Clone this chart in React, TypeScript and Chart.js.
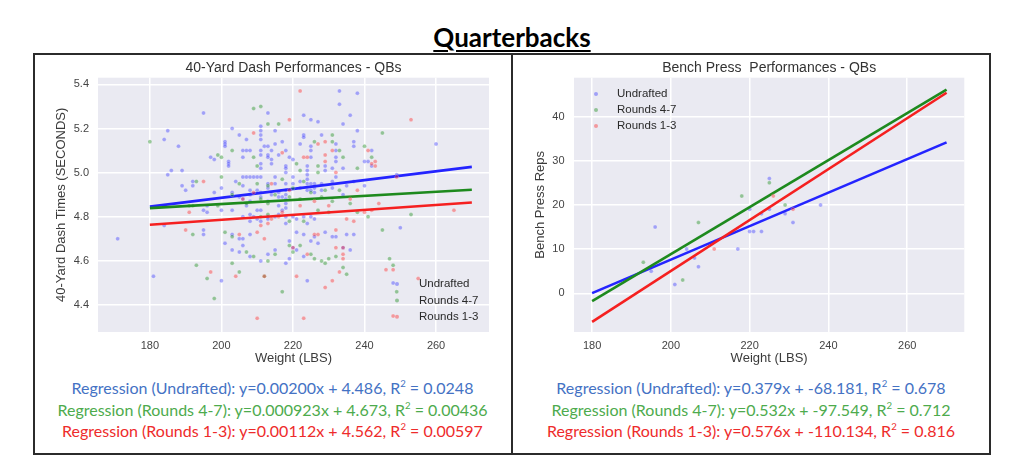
import React, { useEffect, useRef } from 'react';
import { Chart, registerables } from 'chart.js';

Chart.register(...registerables);
Chart.defaults.font.family = '"Liberation Sans", Arial, sans-serif';
Chart.defaults.color = '#3b3b3b';

// ---------- data ----------
const seriesNames = ['Undrafted', 'Rounds 4-7', 'Rounds 1-3'];

const weightTicks = [180, 200, 220, 240, 260];
const dashTicks = [4.4, 4.6, 4.8, 5.0, 5.2, 5.4];
const dashTickLabels = ['4.4', '4.6', '4.8', '5.0', '5.2', '5.4'];
const benchTicks = [0, 10, 20, 30, 40];
const benchTickLabels = ['0', '10', '20', '30', '40'];

const dashUndrafted: number[][] = [
  [233, 5.37], [238, 5.36], [233, 5.31], [195, 5.27], [213, 5.27], [223, 5.26], [236, 5.26], [227, 5.23], [225, 5.24], [234, 5.22],
  [211, 5.21], [203, 5.2], [238, 5.19], [211, 5.19], [215, 5.19], [211, 5.17], [205, 5.17], [223, 5.17], [223, 5.16], [228, 5.17],
  [207, 5.15], [211, 5.15], [237, 5.14], [201, 5.14], [201, 5.13], [201, 5.12], [217, 5.14], [215, 5.13], [222, 5.13], [225, 5.12],
  [212, 5.12], [213, 5.12], [237, 5.12], [242, 5.1], [232, 5.13], [232, 5.1], [206, 5.1], [207, 5.1], [208, 5.1], [211, 5.1],
  [211, 5.08], [214, 5.1], [218, 5.1], [225, 5.1], [197, 5.07], [198, 5.06], [206, 5.07], [213, 5.08], [213, 5.07], [216, 5.08],
  [219, 5.07], [220, 5.06], [225, 5.07], [232, 5.07], [232, 5.05], [241, 5.05], [240, 5.05], [242, 5.03], [234, 5.02], [202, 5.05],
  [202, 5.04], [202, 5.03], [211, 5.04], [211, 5.02], [214, 5.06], [214, 5.04], [218, 5.03], [218, 5.02], [218, 5.0], [224, 5.03],
  [224, 5.01], [229, 5.03], [229, 5.01], [231, 5.02],
  [184, 5.15], [185, 5.19], [188, 5.12], [185, 4.99], [186, 5.01], [189, 4.94], [190, 4.92], [192, 4.96], [189, 5.01], [171, 4.7],
  [181, 4.53], [184, 4.76], [195, 4.74], [200, 4.51],
  [192, 4.94], [196, 4.85], [198, 4.91], [200, 4.93], [204, 4.96], [206, 4.98], [207, 4.98], [208, 4.98], [209, 4.98], [210, 4.98],
  [211, 4.98], [206, 4.94], [208, 4.92], [208, 4.9], [210, 4.92], [211, 4.91], [213, 4.95], [213, 4.93], [215, 4.98], [215, 4.95],
  [216, 4.91], [216, 4.89], [218, 4.95], [218, 4.92], [218, 4.9], [218, 4.88], [218, 4.86], [218, 4.84], [220, 4.98], [220, 4.95],
  [222, 4.96], [222, 4.93], [224, 4.99], [224, 4.97], [224, 4.95], [224, 4.92], [225, 4.95], [225, 4.92], [226, 4.95], [226, 4.93],
  [226, 4.91], [228, 4.95], [228, 4.92], [231, 4.96], [231, 4.93], [232, 4.98], [234, 4.9], [235, 4.94], [237, 4.96], [240, 4.94],
  [203, 4.91], [205, 4.89], [206, 4.88], [207, 4.85], [208, 4.87], [211, 4.89], [213, 4.87], [214, 4.9], [216, 4.85], [217, 4.89],
  [196, 4.82], [195, 4.83], [200, 4.83], [203, 4.83], [206, 4.8], [208, 4.81], [209, 4.8], [210, 4.79], [211, 4.78], [210, 4.83],
  [211, 4.83], [208, 4.78], [213, 4.8], [213, 4.79], [215, 4.8], [216, 4.81], [217, 4.83], [218, 4.8], [218, 4.77], [220, 4.8],
  [221, 4.79], [223, 4.8], [224, 4.77], [225, 4.8], [226, 4.79], [221, 4.73], [223, 4.72], [229, 4.73], [232, 4.71], [235, 4.72],
  [237, 4.72], [250, 4.75], [195, 4.72], [203, 4.72], [205, 4.7], [206, 4.7], [208, 4.72], [201, 4.68], [203, 4.65], [205, 4.64],
  [206, 4.67], [208, 4.62], [211, 4.6], [213, 4.63], [215, 4.65], [219, 4.69], [220, 4.66], [221, 4.65], [223, 4.62], [225, 4.69],
  [226, 4.71], [227, 4.68], [231, 4.71], [234, 4.66], [236, 4.65], [218, 4.59], [219, 4.61], [224, 4.51], [248, 4.5], [260, 5.13],
  [249, 4.99],
];

const dashRounds47: number[][] = [
  [211, 5.3], [209, 5.29], [213, 5.22], [216, 5.22], [245, 5.18], [231, 5.17], [231, 5.14], [226, 5.14], [240, 5.12], [203, 5.1],
  [233, 5.1], [199, 5.08], [200, 5.07], [209, 5.07], [234, 5.07], [242, 5.07], [238, 5.02], [210, 5.03], [221, 5.04], [222, 5.01],
  [227, 5.03], [227, 5.0], [180, 5.14], [200, 4.98], [193, 4.96], [205, 4.95], [210, 4.95], [213, 4.94], [217, 4.97], [220, 4.93],
  [223, 4.96], [229, 4.92], [233, 4.92], [215, 4.9], [219, 4.89], [222, 4.88], [225, 4.91], [228, 4.89], [231, 4.87], [236, 4.86],
  [191, 4.85], [192, 4.85], [199, 4.85], [203, 4.9], [207, 4.86], [211, 4.88], [213, 4.86], [192, 4.72], [193, 4.58], [196, 4.52],
  [198, 4.43], [201, 4.73], [203, 4.71], [203, 4.59], [205, 4.55], [207, 4.64], [209, 4.62], [212, 4.53], [213, 4.6], [215, 4.63],
  [217, 4.46], [219, 4.67], [220, 4.64], [222, 4.67], [225, 4.63], [226, 4.61], [228, 4.6], [229, 4.59], [230, 4.61], [232, 4.62],
  [234, 4.57], [235, 4.54], [238, 4.82], [241, 4.8], [245, 4.74], [247, 4.61], [248, 4.58], [249, 4.46], [253, 4.81], [211, 4.8],
  [213, 4.81], [219, 4.78], [223, 4.78], [227, 4.83], [230, 4.82],
];

const dashRounds13: number[][] = [
  [222, 5.37], [219, 5.24], [209, 5.18], [229, 5.14], [227, 5.13], [241, 5.1], [231, 5.1], [217, 5.09], [223, 5.07], [224, 5.07],
  [229, 5.08], [229, 5.05], [242, 5.04], [243, 5.03], [243, 5.05], [232, 5.0], [195, 4.96], [249, 4.98], [253, 5.24], [190, 4.74],
  [191, 4.82], [197, 4.55], [204, 4.53], [210, 4.34], [212, 4.53], [210, 4.73], [212, 4.7], [205, 4.72], [211, 4.76], [213, 4.77],
  [214, 4.79], [216, 4.8], [217, 4.82], [220, 4.66], [221, 4.53], [223, 4.34], [224, 4.63], [226, 4.72], [227, 4.72], [229, 4.48],
  [231, 4.51], [232, 4.74], [232, 4.66], [234, 4.66], [234, 4.63], [234, 4.61], [233, 4.55], [235, 4.79], [237, 4.78], [240, 4.82],
  [242, 4.83], [244, 4.86], [246, 4.56], [248, 4.35], [248, 4.56], [255, 4.52], [265, 4.83], [206, 4.88], [209, 4.91], [214, 4.95],
  [219, 4.92], [222, 4.85], [226, 4.87], [230, 4.85], [236, 4.88], [238, 4.92],
];

const benchUndrafted: number[][] = [
  [195, 5], [196, 15], [201, 2], [204, 10], [206, 8], [207, 6], [217, 10], [220, 14], [220, 19], [221, 14],
  [223, 14], [223, 18], [225, 19], [225, 26], [229, 18], [231, 16], [238, 20],
];
const benchRounds47: number[][] = [
  [193, 7], [203, 3], [207, 16], [218, 22], [225, 25], [229, 20],
];
const benchRounds13: number[][] = [
  [211, 10], [226, 22], [231, 19],
];

const fitRange = [180, 270];
const dashSlopes = [0.002, 0.000923, 0.00112];
const dashIntercepts = [4.486, 4.673, 4.562];
const dashSlopeLabels = ['0.00200', '0.000923', '0.00112'];
const dashInterceptLabels = ['4.486', '4.673', '4.562'];
const dashR2Labels = ['0.0248', '0.00436', '0.00597'];

const benchSlopes = [0.379, 0.532, 0.576];
const benchIntercepts = [-68.181, -97.549, -110.134];
const benchSlopeLabels = ['0.379', '0.532', '0.576'];
const benchInterceptLabels = ['-68.181', '-97.549', '-110.134'];
const benchR2Labels = ['0.678', '0.712', '0.816'];

// ---------- styles ----------
const pointFills = ['rgba(40,40,255,0.38)', 'rgba(0,128,0,0.38)', 'rgba(255,20,20,0.38)'];
const lineColors = ['#2424ff', '#1e8a1e', '#f52020'];
const textColors = ['#4472C4', '#4DAB4D', '#EE2B2B'];

const plotBg = {
  id: 'plotBg',
  beforeDraw(chart: any) {
    const { ctx, chartArea: a } = chart;
    ctx.save();
    ctx.fillStyle = '#EAEAF2';
    ctx.fillRect(a.left, a.top, a.right - a.left, a.bottom - a.top);
    ctx.restore();
  },
};

const innerLegend = {
  id: 'innerLegend',
  afterDraw(chart: any, _args: any, opts: any) {
    const { ctx, chartArea: a } = chart;
    const mx = opts.fromRight ? a.right - opts.markerOffset : a.left + opts.markerOffset;
    const tx = opts.fromRight ? a.right - opts.textOffset : a.left + opts.textOffset;
    const y0 = opts.fromBottom ? a.bottom - opts.rowOffset : a.top + opts.rowOffset;
    const items = chart.data.datasets.filter((d: any) => !d.showLine);
    ctx.save();
    items.forEach((d: any, i: number) => {
      const y = y0 + i * opts.rowGap;
      ctx.beginPath();
      ctx.arc(mx, y, 2, 0, Math.PI * 2);
      ctx.fillStyle = d.backgroundColor;
      ctx.fill();
      ctx.fillStyle = '#2a2a2a';
      ctx.font = '11.5px "Liberation Sans", Arial, sans-serif';
      ctx.textBaseline = 'middle';
      ctx.textAlign = 'left';
      ctx.fillText(d.label, tx, y);
    });
    ctx.restore();
  },
};

type Spec = {
  left: number; top: number; w: number; h: number;
  title: string; yTitle: string;
  series: number[][][];
  slopes: number[]; intercepts: number[];
  xMin: number; xMax: number; yMin: number; yMax: number;
  yTicks: number[]; yTickLabels: string[];
  padRight: number; yWidth: number; yTitlePad: number; yTickPad: number;
  legend: any;
};

function buildConfig(s: Spec): any {
  const datasets: any[] = [];
  s.series.forEach((pts, i) => {
    datasets.push({
      label: seriesNames[i],
      data: pts.map(([x, y]) => ({ x, y })),
      backgroundColor: pointFills[i],
      borderColor: 'rgba(255,255,255,0.4)',
      borderWidth: 0.5,
      pointRadius: 2,
      pointHoverRadius: 2,
      order: 6 - i * 2,
    });
    datasets.push({
      label: seriesNames[i] + ' fit',
      data: fitRange.map((x) => ({ x, y: s.slopes[i] * x + s.intercepts[i] })),
      showLine: true,
      borderColor: lineColors[i],
      backgroundColor: lineColors[i],
      borderWidth: 2.6,
      pointRadius: 0,
      pointHoverRadius: 0,
      order: 5 - i * 2,
    });
  });
  return {
    type: 'scatter',
    data: { datasets },
    plugins: [plotBg, innerLegend],
    options: {
      responsive: false,
      animation: false,
      events: [],
      layout: { padding: { left: 0, right: s.padRight, top: 0, bottom: 0 } },
      plugins: {
        legend: { display: false },
        tooltip: { enabled: false },
        title: {
          display: true,
          text: s.title,
          fullSize: false,
          color: '#333',
          font: { size: 14, weight: 'normal' },
          padding: { top: 5.9, bottom: 1 },
        },
        innerLegend: s.legend,
      },
      scales: {
        x: {
          type: 'linear',
          min: s.xMin,
          max: s.xMax,
          afterBuildTicks: (sc: any) => { sc.ticks = weightTicks.map((v) => ({ value: v })); },
          afterFit: (sc: any) => { sc.height = s.h - 278; },
          grid: { color: '#ffffff', lineWidth: 1.5, drawTicks: false },
          border: { display: false },
          ticks: { padding: 7, color: '#444', font: { size: 11 }, callback: (v: number) => String(v) },
          title: { display: true, text: 'Weight (LBS)', color: '#3b3b3b', font: { size: 13 }, padding: { top: 0, bottom: 7.7 } },
        },
        y: {
          type: 'linear',
          min: s.yMin,
          max: s.yMax,
          afterBuildTicks: (sc: any) => { sc.ticks = s.yTicks.map((v) => ({ value: v })); },
          afterFit: (sc: any) => { sc.width = s.yWidth; },
          grid: { color: '#ffffff', lineWidth: 1.5, drawTicks: false },
          border: { display: false },
          ticks: {
            padding: s.yTickPad,
            color: '#444',
            font: { size: 11 },
            callback: (v: number) => s.yTickLabels[s.yTicks.indexOf(v)] ?? '',
          },
          title: { display: true, text: s.yTitle, color: '#3b3b3b', font: { size: 13 }, padding: { top: s.yTitlePad, bottom: 0 } },
        },
      },
    },
  };
}

const dashSpec: Spec = {
  left: 34, top: 54, w: 477, h: 320,
  title: '40-Yard Dash Performances - QBs',
  yTitle: '40-Yard Dash Times (SECONDS)',
  series: [dashUndrafted, dashRounds47, dashRounds13],
  slopes: dashSlopes, intercepts: dashIntercepts,
  xMin: 165.5, xMax: 274.8, yMin: 4.278, yMax: 5.43,
  yTicks: dashTicks, yTickLabels: dashTickLabels,
  padRight: 22, yWidth: 64, yTitlePad: 20, yTickPad: 9,
  legend: { fromRight: true, fromBottom: true, markerOffset: 92, textOffset: 70, rowOffset: 47.9, rowGap: 16.3 },
};

const benchSpec: Spec = {
  left: 513, top: 54, w: 476, h: 320,
  title: 'Bench Press  Performances - QBs',
  yTitle: 'Bench Press Reps',
  series: [benchUndrafted, benchRounds47, benchRounds13],
  slopes: benchSlopes, intercepts: benchIntercepts,
  xMin: 175.4, xMax: 274.5, yMin: -8.76, yMax: 48.8,
  yTicks: benchTicks, yTickLabels: benchTickLabels,
  padRight: 24.7, yWidth: 61, yTitlePad: 19.2, yTickPad: 9.5,
  legend: { fromRight: false, fromBottom: false, markerOffset: 22, textOffset: 43, rowOffset: 16.3, rowGap: 16 },
};

function ChartCanvas({ spec }: { spec: Spec }) {
  const ref = useRef<HTMLCanvasElement>(null);
  useEffect(() => {
    const chart = new Chart(ref.current as HTMLCanvasElement, buildConfig(spec));
    return () => chart.destroy();
  }, [spec]);
  return (
    <canvas
      ref={ref}
      width={spec.w}
      height={spec.h}
      style={{ position: 'absolute', left: spec.left, top: spec.top, width: spec.w, height: spec.h }}
    />
  );
}

function RegressionText({ left, width, slopes, intercepts, r2 }: { left: number; width: number; slopes: string[]; intercepts: string[]; r2: string[] }) {
  return (
    <div
      style={{
        position: 'absolute', left, top: 377.25, width, textAlign: 'center',
        fontFamily: 'Lato, "Open Sans", sans-serif', fontSize: 16, lineHeight: '21.5px', whiteSpace: 'nowrap',
      }}
    >
      {seriesNames.map((name, i) => (
        <div key={name} style={{ color: textColors[i] }}>
          Regression ({name}): y={slopes[i]}x + {intercepts[i]}, R
          <sup style={{ fontSize: '0.6em', lineHeight: 0, verticalAlign: '0.75em' }}>2</sup> = {r2[i]}
        </div>
      ))}
    </div>
  );
}

export default function App() {
  return (
    <div style={{ position: 'absolute', left: 0, top: 0, width: 1024, height: 455, background: '#fff', overflow: 'hidden' }}>
      <div
        style={{
          position: 'absolute', left: 0, top: 21.6, width: 1024, textAlign: 'center',
          fontFamily: 'Lato, sans-serif', fontWeight: 700, fontSize: 26, lineHeight: '30px', color: '#000',
          textDecoration: 'underline', textDecorationThickness: '2px', textUnderlineOffset: '3px',
        }}
      >
        Quarterbacks
      </div>
      <div style={{ position: 'absolute', left: 33, top: 53, width: 958, height: 402, border: '2px solid #2b2b2b', boxSizing: 'border-box' }} />
      <div style={{ position: 'absolute', left: 511, top: 53, width: 2, height: 402, background: '#2b2b2b' }} />
      <ChartCanvas spec={dashSpec} />
      <ChartCanvas spec={benchSpec} />
      <RegressionText left={33} width={479} slopes={dashSlopeLabels} intercepts={dashInterceptLabels} r2={dashR2Labels} />
      <RegressionText left={512} width={478} slopes={benchSlopeLabels} intercepts={benchInterceptLabels} r2={benchR2Labels} />
    </div>
  );
}
